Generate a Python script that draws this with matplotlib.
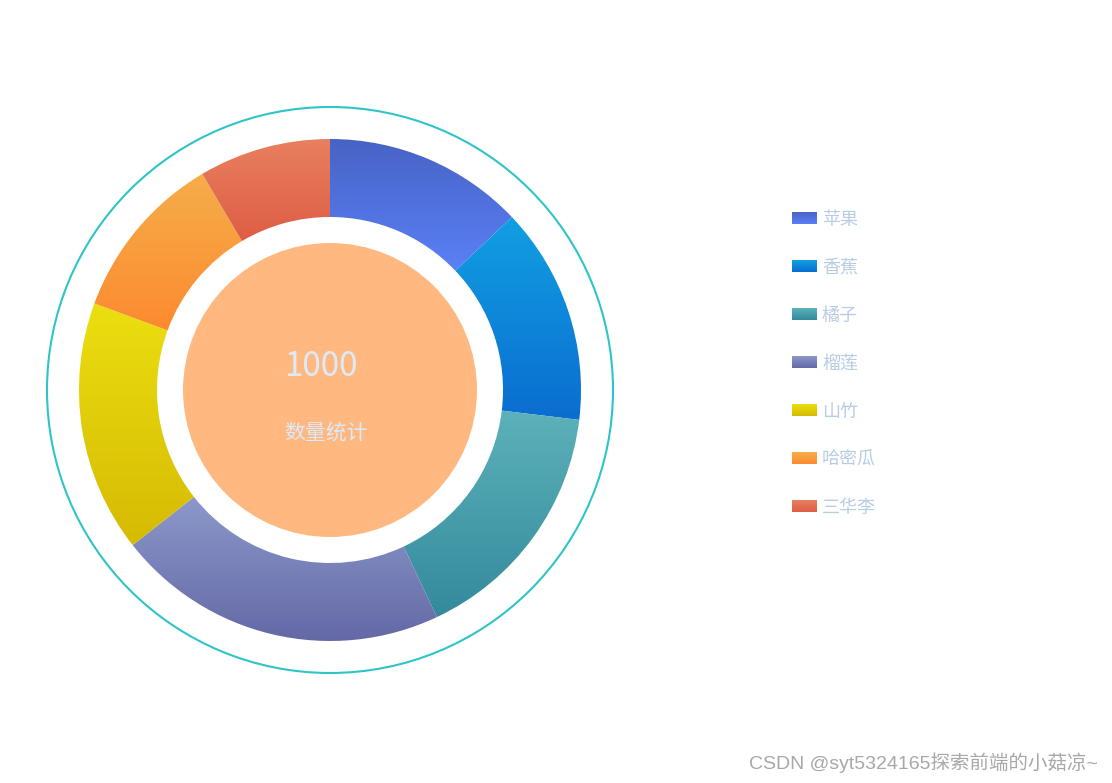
import numpy as np
import matplotlib
matplotlib.use("Agg")
import matplotlib.pyplot as plt
from matplotlib.patches import Wedge, Circle, Rectangle
from matplotlib.colors import LinearSegmentedColormap

plt.rcParams['font.family'] = ['Noto Sans CJK SC', 'DejaVu Sans']

# 数据
names = ["苹果", "香蕉", "橘子", "榴莲", "山竹", "哈密瓜", "三华李"]
values = [129, 140, 161, 214, 162, 109, 85]
top_colors = ["#4763c5", "#129fe2", "#5cb1ba", "#8c98ca", "#ebdf10", "#f5ae4a", "#e8805f"]
bottom_colors = ["#5b80f6", "#0a6dd0", "#348a9b", "#6469a6", "#d6ba04", "#fd8a2f", "#de5d45"]
total = 1000
center_title = "数量统计"

W, H = 1112, 783
fig = plt.figure(figsize=(W / 100, H / 100), dpi=100)
ax = fig.add_axes([0, 0, 1, 1])
ax.set_xlim(0, W)
ax.set_ylim(0, H)
ax.set_aspect("equal")
ax.axis("off")

cx, cy = 330, H - 390
r_out, r_in = 251, 173


def gradient_fill(patch, c_top, c_bot, x0, x1, y0, y1):
    cmap = LinearSegmentedColormap.from_list("g", [c_bot, c_top])
    grad = np.linspace(0, 1, 256).reshape(-1, 1)
    im = ax.imshow(grad, cmap=cmap, extent=[x0, x1, y0, y1], origin="lower",
                   aspect="auto", zorder=2, interpolation="bilinear")
    im.set_clip_path(patch)


# 外圈细线
ax.add_patch(Circle((cx, cy), 283, fill=False, edgecolor="#2ec4c8", linewidth=1.5, zorder=1))

# 环形饼图
start = 0.0
for v, ct, cb in zip(values, top_colors, bottom_colors):
    span = v / sum(values) * 360
    t1 = 90 - (start + span)
    t2 = 90 - start
    w = Wedge((cx, cy), r_out, t1, t2, width=r_out - r_in, facecolor="none",
              edgecolor="none")
    ax.add_patch(w)
    ang = np.radians(np.linspace(t1, t2, 200))
    ys = np.concatenate([cy + r_out * np.sin(ang), cy + r_in * np.sin(ang)])
    xs = np.concatenate([cx + r_out * np.cos(ang), cx + r_in * np.cos(ang)])
    gradient_fill(w, ct, cb, xs.min(), xs.max(), ys.min(), ys.max())
    start += span

# 中心圆
ax.add_patch(Circle((cx, cy), 147, facecolor="#ffb880", edgecolor="none", zorder=3))
ax.text(cx - 9, H - 367, str(total), fontsize=24, color="#dde9f7",
        ha="center", va="center", zorder=4)
ax.text(cx - 4, H - 433, center_title, fontsize=15, color="#dde9f7",
        ha="center", va="center", zorder=4)

# 图例
for i, (n, ct, cb) in enumerate(zip(names, top_colors, bottom_colors)):
    y = H - (218 + 48 * i)
    rect = Rectangle((792, y - 6), 25, 12, facecolor="none", edgecolor="none")
    ax.add_patch(rect)
    gradient_fill(rect, ct, cb, 792, 817, y - 6, y + 6)
    ax.text(822, y - 2, n, fontsize=13, color="#b8cce3", ha="left", va="center")

# 水印
ax.text(1098, H - 763, "CSDN @syt5324165探索前端的小菇凉~", fontsize=14,
        color="#a8a8a8", ha="right", va="center",
        family=["Liberation Sans", "Noto Sans CJK SC"])

fig.savefig("out.png", dpi=100)
